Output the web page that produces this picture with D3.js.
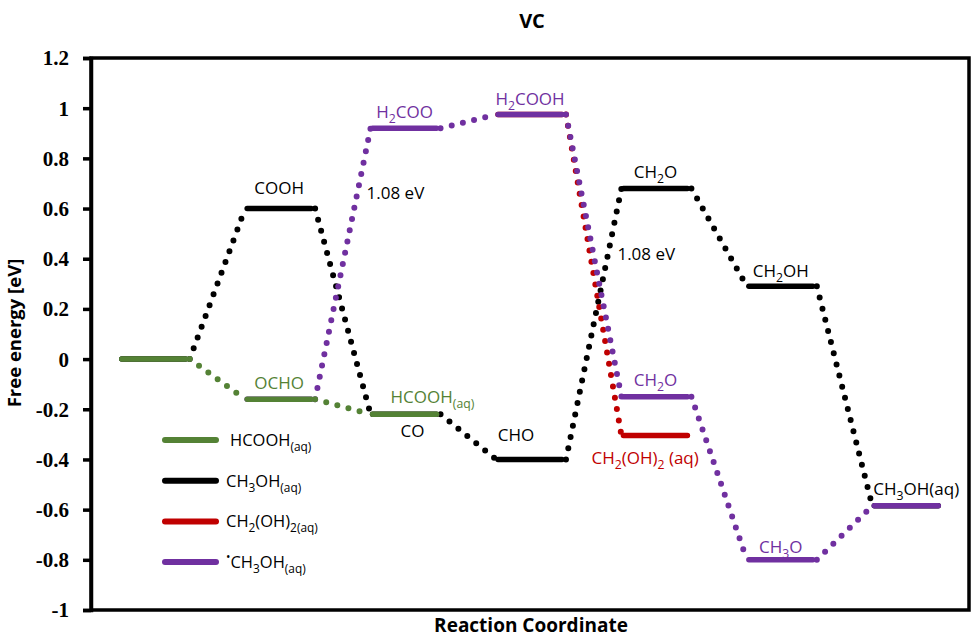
<!DOCTYPE html>
<html><head><meta charset="utf-8">
<script src="https://cdn.jsdelivr.net/npm/d3@7"></script>
<style>body{margin:0;background:#fff}</style>
</head><body><svg id="c" width="975" height="639"></svg>
<script>
const steps = [0, 1, 2, 3, 4, 5, 6];
const blackPath  = [0, 0.60, -0.22, -0.40, 0.68, 0.29, -0.585];
const greenPath  = [0, -0.16, -0.22, null, null, null, null];
const purplePath = [null, -0.16, 0.92, 0.975, -0.15, -0.80, -0.585];
const redPath    = [null, null, null, 0.975, -0.305, null, null];
const yTicks = [-1, -0.8, -0.6, -0.4, -0.2, 0, 0.2, 0.4, 0.6, 0.8, 1, 1.2];
const yTickLabels = ["-1","-0.8","-0.6","-0.4","-0.2","0","0.2","0.4","0.6","0.8","1","1.2"];
const legendNames = ["HCOOH_{(aq)}", "CH_{3}OH_{(aq)}", "CH_{2}(OH)_{2(aq)}", "^{•}CH_{3}OH_{(aq)}"];
const levelLabels = [
  {t:"COOH", s:"black", i:1, v:0.60},
  {t:"OCHO", s:"green", i:1, v:-0.16},
  {t:"H_{2}COO", s:"purple", i:2, v:0.92},
  {t:"HCOOH_{(aq)}", s:"green", i:2, v:-0.22},
  {t:"CO", s:"black", i:2, v:-0.22},
  {t:"H_{2}COOH", s:"purple", i:3, v:0.975},
  {t:"CHO", s:"black", i:3, v:-0.40},
  {t:"CH_{2}O", s:"black", i:4, v:0.68},
  {t:"CH_{2}O", s:"purple", i:4, v:-0.15},
  {t:"CH_{2}(OH)_{2} (aq)", s:"red", i:4, v:-0.305},
  {t:"CH_{2}OH", s:"black", i:5, v:0.29},
  {t:"CH_{3}O", s:"purple", i:5, v:-0.80},
  {t:"CH_{3}OH(aq)", s:"black", i:6, v:-0.585},
  {t:"1.08 eV", s:"black", i:2, v:0.92},
  {t:"1.08 eV", s:"black", i:4, v:0.68}
];
// layout offsets for labels (dx in px from bar centre, dy from level, anchor)
const labelLayout = [
  [0,-15,"middle"],[0,-10,"middle"],[0,-10,"middle"],[-14,-11,"start"],[8,23,"middle"],
  [0,-9,"middle"],[-14,-18,"middle"],[0,-10,"middle"],[0,-11,"middle"],[-64,28,"start"],
  [0,-9,"middle"],[0,-7,"middle"],[-33,-11,"start"],[-38,71,"start"],[-38,72,"start"]
];
const colors = {black:"#000000", green:"#548235", purple:"#7030A0", red:"#C00000"};

const svg = d3.select("#c");
const L = 91, R = 969, T = 58, B = 610;
const x = d3.scaleLinear().domain([-0.5, 6.5]).range([L, R]);
const y = d3.scaleLinear().domain([-1, 1.2]).range([B, T]);
const hw = 0.255;
const sans = "'Open Sans', 'DejaVu Sans', sans-serif";

function rich(sel, str) {
  const re = /(_\{[^}]*\}|\^\{[^}]*\}|[^_^]+)/g;
  let m, prevShift = 0;
  while ((m = re.exec(str)) !== null) {
    const p = m[0];
    let txt = p, shift = 0, small = false;
    if (p.startsWith("_{")) { txt = p.slice(2, -1); shift = 5; small = true; }
    else if (p.startsWith("^{")) { txt = p.slice(2, -1); shift = -7; small = true; }
    const ts = sel.append("tspan").text(txt).attr("dy", shift - prevShift);
    if (small) ts.attr("font-size", "0.72em");
    prevShift = shift;
  }
}

// frame
svg.append("rect").attr("x", L).attr("y", T).attr("width", R - L).attr("height", B - T)
  .attr("fill", "none").attr("stroke", "#000").attr("stroke-width", 3.5);

// y axis
const yAxis = d3.axisLeft(y).tickValues(yTicks).tickSize(8).tickFormat((d, i) => yTickLabels[i]);
const ga = svg.append("g").attr("transform", `translate(${L},0)`).call(yAxis);
ga.select(".domain").attr("stroke-width", 3.5);
ga.selectAll(".tick line").attr("stroke-width", 3.5);
ga.selectAll(".tick text").attr("font-family", "'Liberation Serif', 'Times New Roman', serif")
  .attr("font-weight", "bold").attr("font-size", 21).attr("fill", "#000").attr("x", -22).attr("dy", "0.33em");

// titles
svg.append("text").attr("x", 532).attr("y", 28).attr("text-anchor", "middle")
  .attr("font-family", sans).attr("font-weight", "bold").attr("font-size", 20).text("VC");
svg.append("text").attr("x", 531).attr("y", 632).attr("text-anchor", "middle")
  .attr("font-family", sans).attr("font-weight", "bold").attr("font-size", 19).text("Reaction Coordinate");
svg.append("text").attr("transform", "translate(21,333) rotate(-90)").attr("text-anchor", "middle")
  .attr("font-family", sans).attr("font-weight", "bold").attr("font-size", 18.5).text("Free energy [eV]");

// series
const series = [
  {k:"black", d:blackPath},
  {k:"red", d:redPath},
  {k:"purple", d:purplePath},
  {k:"green", d:greenPath}
];
const gs = svg.append("g");
series.forEach(s => {
  const g = gs.append("g");
  const c = colors[s.k];
  for (let i = 0; i < s.d.length - 1; i++) {
    if (s.d[i] == null || s.d[i + 1] == null) continue;
    g.append("line")
      .attr("x1", x(steps[i] + hw) + 4).attr("y1", y(s.d[i]))
      .attr("x2", x(steps[i + 1] - hw) - 2).attr("y2", y(s.d[i + 1]))
      .attr("stroke", c).attr("stroke-width", 6).attr("stroke-linecap", "round")
      .attr("stroke-dasharray", "0 11.5");
  }
  s.d.forEach((v, i) => {
    if (v == null) return;
    g.append("line")
      .attr("x1", x(steps[i] - hw)).attr("x2", x(steps[i] + hw))
      .attr("y1", y(v)).attr("y2", y(v))
      .attr("stroke", c).attr("stroke-width", 5.5).attr("stroke-linecap", "round");
  });
});

// labels
levelLabels.forEach((l, j) => {
  const [dx, dy, anc] = labelLayout[j];
  const t = svg.append("text").attr("x", x(steps[l.i]) + dx).attr("y", y(l.v) + dy)
    .attr("text-anchor", anc).attr("font-family", sans).attr("font-size", 17)
    .attr("fill", colors[l.s]);
  rich(t, l.t);
});

// legend
const legColors = ["green", "black", "red", "purple"];
legendNames.forEach((n, i) => {
  const ly = 440 + i * 40.7;
  svg.append("line").attr("x1", 165).attr("x2", 216).attr("y1", ly).attr("y2", ly)
    .attr("stroke", colors[legColors[i]]).attr("stroke-width", 6).attr("stroke-linecap", "round");
  const t = svg.append("text").attr("x", i === 0 ? 230 : 226).attr("y", ly + 6)
    .attr("font-family", sans).attr("font-size", 16.5).attr("fill", "#000");
  rich(t, n);
});
</script></body></html>
